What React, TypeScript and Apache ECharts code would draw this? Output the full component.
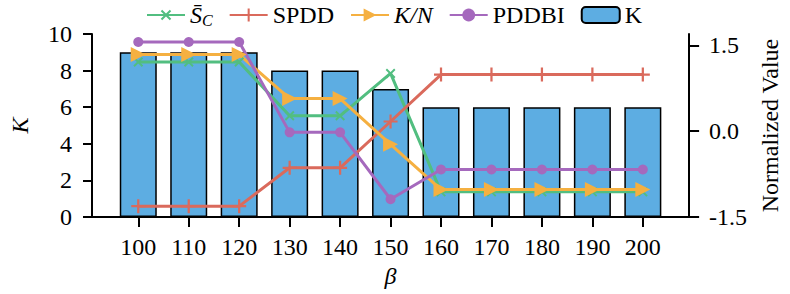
import React, { useEffect, useRef } from "react";
import * as echarts from "echarts";

const betas = [100, 110, 120, 130, 140, 150, 160, 170, 180, 190, 200];
const kValues = [9, 9, 9, 8, 8, 7, 6, 6, 6, 6, 6];
const scValues = [1.21, 1.21, 1.21, 0.27, 0.27, 1.01, -1.06, -1.06, -1.06, -1.06, -1.06];
const spddValues = [-1.31, -1.31, -1.31, -0.64, -0.64, 0.17, 0.99, 0.99, 0.99, 0.99, 0.99];
const knValues = [1.34, 1.34, 1.34, 0.57, 0.57, -0.23, -1.02, -1.02, -1.02, -1.02, -1.02];
const pddbiValues = [1.56, 1.56, 1.56, -0.02, -0.02, -1.19, -0.67, -0.67, -0.67, -0.67, -0.67];
const leftTicks = [0, 2, 4, 6, 8, 10];
const rightTicks = [-1.5, 0, 1.5];

const FONT = "Liberation Serif";
const SC_NAME = "S\u0304C";
const PLUS = "path://M-1,-0.16 H1 V0.16 H-1 Z M-0.16,-1 H0.16 V1 H-0.16 Z";

export default function App() {
  const ref = useRef<HTMLDivElement>(null);
  useEffect(() => {
    document.body.style.margin = "0";
    if (!ref.current) return;
    const chart = echarts.init(ref.current, undefined, { renderer: "svg" });
    const pair = (vals: number[]) => betas.map((b, i) => [b, vals[i]]);
    const lineBase = (name: string, color: string, vals: number[], extra: any) => ({
      name,
      type: "line",
      yAxisIndex: 1,
      data: pair(vals),
      lineStyle: { color, width: 3 },
      itemStyle: { color },
      z: 3,
      ...extra,
    });
    chart.setOption({
      animation: false,
      textStyle: { fontFamily: FONT },
      grid: { left: 74, right: 89, top: 34, bottom: 77 },
      legend: {
        left: 141,
        top: -2,
        itemWidth: 38,
        itemHeight: 16,
        itemGap: 16,
        textStyle: {
          fontFamily: FONT,
          fontSize: 24,
          color: "#000",
          rich: {
            it: { fontFamily: FONT, fontSize: 24, fontStyle: "italic", color: "#000" },
            sub: { fontFamily: FONT, fontSize: 16, fontStyle: "italic", color: "#000", padding: [10, 0, 0, 0] },
          },
        },
        formatter: (name: string) => {
          if (name === SC_NAME) return "{it|S\u0304}{sub|C}";
          if (name === "K/N") return "{it|K/N}";
          return name;
        },
        data: [SC_NAME, "SPDD", "K/N", "PDDBI", "K"],
      },
      xAxis: {
        type: "value",
        min: 90.83,
        max: 209.17,
        name: "β",
        nameLocation: "middle",
        nameGap: 43,
        nameTextStyle: { fontFamily: FONT, fontSize: 24, fontStyle: "italic", color: "#000" },
        axisLine: { show: true, onZero: false, lineStyle: { color: "#000", width: 2 } },
        axisTick: { show: true, length: 10, lineStyle: { color: "#000", width: 2 }, customValues: betas },
        axisLabel: { fontFamily: FONT, fontSize: 24, color: "#000", margin: 18, customValues: betas },
        splitLine: { show: false },
      },
      yAxis: [
        {
          type: "value",
          position: "left",
          min: 0,
          max: 10,
          interval: 2,
          name: "K",
          nameLocation: "middle",
          nameGap: 60,
          nameTextStyle: { fontFamily: FONT, fontSize: 24, fontStyle: "italic", color: "#000" },
          axisLine: { show: true, onZero: false, lineStyle: { color: "#000", width: 2 } },
          axisTick: { show: true, length: 9, lineStyle: { color: "#000", width: 2 }, customValues: leftTicks },
          axisLabel: { fontFamily: FONT, fontSize: 24, color: "#000", margin: 20, customValues: leftTicks },
          splitLine: { show: false },
        },
        {
          type: "value",
          position: "right",
          min: -1.5,
          max: 1.7,
          name: "Normalized Value",
          nameLocation: "middle",
          nameGap: 68,
          nameTextStyle: { fontFamily: FONT, fontSize: 24, color: "#000" },
          axisLine: { show: true, onZero: false, lineStyle: { color: "#000", width: 2 } },
          axisTick: { show: true, length: 10, lineStyle: { color: "#000", width: 2 }, customValues: rightTicks },
          axisLabel: {
            fontFamily: FONT,
            fontSize: 24,
            color: "#000",
            margin: 20,
            customValues: rightTicks,
            formatter: (v: number) => v.toFixed(1),
          },
          splitLine: { show: false },
        },
      ],
      series: [
        {
          name: "K",
          type: "bar",
          yAxisIndex: 0,
          data: pair(kValues),
          barWidth: 37,
          itemStyle: { color: "#5DADE2", borderColor: "#000", borderWidth: 1.5 },
          z: 2,
        },
        lineBase(SC_NAME, "#52BE80", scValues, {
          symbol: PLUS,
          symbolSize: 12,
          symbolRotate: 45,
        }),
        lineBase("SPDD", "#DA6A5C", spddValues, {
          symbol: PLUS,
          symbolSize: 14,
        }),
        lineBase("K/N", "#F5B041", knValues, {
          symbol: "triangle",
          symbolSize: 15,
          symbolRotate: -90,
        }),
        lineBase("PDDBI", "#A569BD", pddbiValues, {
          symbol: "circle",
          symbolSize: 10,
        }),
      ],
    });
    return () => chart.dispose();
  }, []);
  return <div ref={ref} style={{ width: 790, height: 294 }} />;
}
